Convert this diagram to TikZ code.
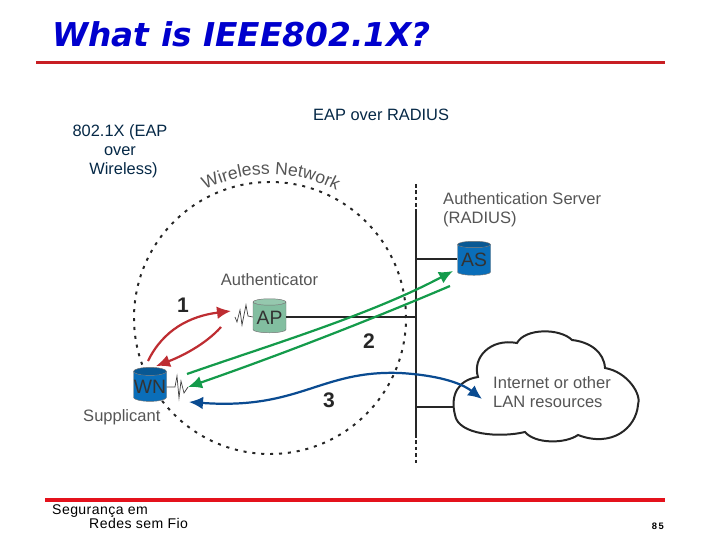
\documentclass[tikz,border=0pt]{standalone}
\usepackage{fontspec}
\setmainfont{Liberation Sans}
\newfontfamily\titlefont{DejaVu Sans}
\newfontfamily\footfont[LetterSpace=3]{Liberation Sans}
\usepackage{xcolor}
\usepackage{tikz}
\usetikzlibrary{arrows.meta,decorations.text,positioning,shapes.geometric}
\definecolor{titleblue}{RGB}{0,0,205}
\definecolor{ruletop}{RGB}{200,30,35}
\definecolor{rulebottom}{RGB}{228,18,28}
\definecolor{navy}{RGB}{5,40,70}
\definecolor{figgray}{RGB}{85,85,85}
\definecolor{wnblue}{RGB}{10,110,185}
\definecolor{apgreen}{RGB}{130,190,160}
\definecolor{arrred}{RGB}{190,45,50}
\definecolor{arrgreen}{RGB}{20,155,75}
\definecolor{arrblue}{RGB}{10,75,145}

\begin{document}
\begin{tikzpicture}[
  x=0.03cm, y=-0.03cm,
  font=\fontsize{14}{16.5}\selectfont,
  rulebar/.style={line width=3.4pt},
  note/.style={text=navy, align=center, inner sep=0pt},
  label/.style={text=figgray, align=left, inner sep=0pt, font=\fontsize{14.1}{17}\selectfont},
  num/.style={inner sep=0pt, text=black!85, font=\fontsize{18}{18}\selectfont\bfseries},
  cyl/.style={cylinder, shape border rotate=90, aspect=0.25, draw=black!55, thin, cylinder uses custom fill,
    minimum width=0.99cm, minimum height=1.02cm, inner sep=0pt, text=black!80, font=\fontsize{16.5}{17}\selectfont},
  net/.style={line width=1.7pt, black!85},
  busdash/.style={net, dash pattern=on 3pt off 2.5pt},
  arr/.style={line width=1.9pt, -{Latex[length=4.2mm,width=3.8mm]}},
  wave/.style={line width=0.6pt, black!75}
]
\useasboundingbox (0,0) rectangle (720,540);

\node[inner sep=0pt, anchor=base west, text=titleblue, font=\titlefont\fontsize{28}{30}\selectfont\bfseries\itshape] (title) at (52,47) {What is IEEE802.1X?};
\coordinate (toprule0) at (36,62.5);
\coordinate (toprule1) at (665,62.5);
\draw[rulebar, ruletop] (toprule0) -- (toprule1);
\coordinate (botrule0) at (45,500);
\coordinate (botrule1) at (665,500);
\draw[rulebar, rulebottom] (botrule0) -- (botrule1);

\node[note, anchor=north] (wireless) at (120,124) {802.1X (EAP\\over\\\hspace*{6pt}Wireless)};
\node[note, anchor=base west] (radius) at (313,121) {EAP over RADIUS};

\node[circle, draw=black!85, line width=1.7pt, dash pattern=on 2.6pt off 5pt, minimum size=8.16cm, inner sep=0pt] (wlan) at (270,318) {};
\path[decorate, decoration={text along path, text align={fit to path}, text={|\fontsize{15}{15}\selectfont\color{figgray}|Wireless Network}}]
  (205,190) arc[start angle=-117, end angle=-63, radius=143];

\coordinate (bus0) at (416,184);
\coordinate (bus1) at (416,209);
\coordinate (bus2) at (416,434);
\coordinate (bus3) at (416,464);
\draw[busdash] (bus0) -- (bus1);
\draw[net] (bus1) -- (bus2);
\draw[busdash] (bus2) -- (bus3);

\node[cyl, cylinder body fill=wnblue, cylinder end fill=wnblue!80!black] (as) at (474,260) {AS};
\node[cyl, cylinder body fill=apgreen, cylinder end fill=apgreen!85!white] (ap) at (269.5,317.5) {AP};
\node[cyl, cylinder body fill=wnblue, cylinder end fill=wnblue!80!black] (wn) at (150,386.5) {WN};

\draw[net, fill=white] (478,377) .. controls (472,358) and (490,338) .. (517,343)
  .. controls (525,328) and (560,328) .. (572,340) .. controls (590,342) and (604,352) .. (605,368)
  .. controls (628,372) and (642,395) .. (638,405) .. controls (636,428) and (612,448) .. (578,435)
  .. controls (565,444) and (535,444) .. (525,432) .. controls (500,438) and (458,435) .. (455,415)
  .. controls (450,395) and (458,380) .. (478,377) -- cycle;
\node[label, anchor=base west, font=\fontsize{14.1}{15.5}\selectfont] (lan) at (493,407) {Internet or other\\LAN resources};

\coordinate (busas) at (416,259);
\coordinate (busap) at (416,317);
\coordinate (buslan) at (416,407);
\coordinate (lanwest) at (454,407);
\draw[net] (busas) -- (as.west |- busas);
\draw[net] (ap.east |- busap) -- (busap);
\draw[net] (buslan) -- (lanwest);

\node[label, anchor=base west] (asname) at (443,224) {Authentication Server\\(RADIUS)};
\node[label, anchor=base] (apname) at (269.5,286) {Authenticator};
\node[label, anchor=base west] (wnname) at (83,422) {Supplicant};
\node[num] (one) at (183,305) {1};
\node[num] (two) at (369,341) {2};
\node[num] (three) at (329,400) {3};

\coordinate (apwave) at (235,317);
\coordinate (wnwave) at (188,387);
\draw[wave] (ap.west |- apwave) -- (248,316) -- (246,305) -- (242,325) -- (240,310) -- (237,322) -- (apwave);
\draw[wave] (wn.east |- wnwave) -- (175,387) -- (177,376) -- (179,398) -- (181,381) -- (184,393) -- (wnwave);

\coordinate (red1a) at (148,361);
\coordinate (red1b) at (231,311);
\coordinate (red2a) at (221,327);
\coordinate (red2b) at (156,366);
\draw[arr, arrred] (red1a) .. controls (163,330) and (190,316) .. (red1b);
\draw[arr, arrred] (red2a) .. controls (205,345) and (180,357) .. (red2b);

\coordinate (grn1a) at (187,374);
\coordinate (grn1b) at (453,271);
\coordinate (grn2a) at (450,286);
\coordinate (grn2b) at (188,387);
\draw[arr, arrgreen] (grn1a) .. controls (270,345) and (370,315) .. (grn1b);
\draw[arr, arrgreen] (grn2a) .. controls (370,320) and (280,355) .. (grn2b);

\coordinate (blu1) at (189,402);
\coordinate (blu2) at (482,399);
\draw[arr, arrblue, {Latex[length=4.2mm,width=3.8mm]}-{Latex[length=4.2mm,width=3.8mm]}] (blu1) .. controls (300,410) and (320,370) .. (400,373) .. controls (435,375) and (460,382) .. (blu2);

\node[inner sep=0pt, anchor=base west, font=\footfont\fontsize{12}{12}\selectfont] (foot1) at (52,514) {Segurança em};
\node[inner sep=0pt, anchor=base west, font=\footfont\fontsize{12}{12}\selectfont] (foot2) at (89,528) {Redes sem Fio};
\node[inner sep=0pt, anchor=base east, font=\footfont\fontsize{8}{9}\selectfont\bfseries] (page) at (664,529) {8\,5};
\end{tikzpicture}
\end{document}
